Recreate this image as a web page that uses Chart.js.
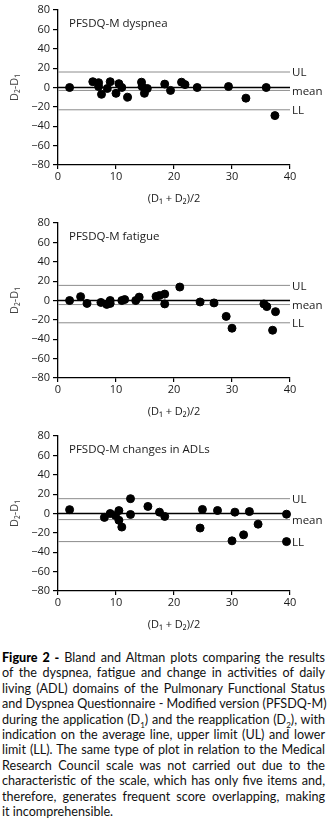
<!DOCTYPE html>
<html>
<head>
<meta charset="utf-8">
<script src="https://cdn.jsdelivr.net/npm/chart.js@4.4.1/dist/chart.umd.min.js"></script>
<style>
  html, body { margin: 0; padding: 0; background: #fff; }
  body { width: 327px; }
  .plot { position: relative; width: 327px; height: 213px; }
  .caption {
    margin: 11px 2px 0 2px;
    font-family: "Lato", sans-serif;
    font-size: 12.6px;
    line-height: 15.4px;
    color: #111;
  }
  .caption span { display: block; white-space: nowrap; text-align: justify; text-align-last: justify; }
  .caption span:last-child { text-align-last: left; }
  .caption b { font-weight: 900; color: #000; }
  .caption sub { font-size: 8px; line-height: 0; }
</style>
</head>
<body>
<div class="plot"><canvas id="c_dyspnea"></canvas></div>
<div class="plot"><canvas id="c_fatigue"></canvas></div>
<div class="plot"><canvas id="c_adl"></canvas></div>
<div class="caption">
<span><b>Figure 2 -</b> Bland and Altman plots comparing the results</span>
<span>of the dyspnea, fatigue and change in activities of daily</span>
<span>living (ADL) domains of the Pulmonary Functional Status</span>
<span>and Dyspnea Questionnaire - Modified version (PFSDQ-M)</span>
<span>during the application (D<sub>1</sub>) and the reapplication (D<sub>2</sub>), with</span>
<span>indication on the average line, upper limit (UL) and lower</span>
<span>limit (LL). The same type of plot in relation to the Medical</span>
<span>Research Council scale was not carried out due to the</span>
<span>characteristic of the scale, which has only five items and,</span>
<span>therefore, generates frequent score overlapping, making</span>
<span>it incomprehensible.</span>
</div>

<script>
// mean of both applications (x) and their difference D2-D1 (y)
const dyspnea_avg  = [2, 6, 7, 7, 7.5, 8.5, 9, 10, 10.5, 11, 12, 14.4, 14.5, 14.9, 15.4, 18.4, 19.4, 21.3, 21.9, 24, 29.4, 32.4, 35.9, 37.4];
const dyspnea_diff = [0, 6, 5, 1, -7, -1, 6, -6, 4, 0, -10, 5.5, 1, -6, -1, 3.5, -3, 5.5, 3, 0, 1, -11, 0, -29];
const dyspnea_lim  = [16, -3, -23];

const fatigue_avg  = [2, 3.9, 5, 7.4, 8.4, 9, 9, 11, 11.5, 13.4, 14, 16.9, 17.5, 18.4, 18.4, 21, 24.5, 26.9, 29, 30, 35.5, 36, 37, 37.5];
const fatigue_diff = [0, 4, -3, -2, -4, 0, -3, 0, 1, 0, 3.5, 4.2, 5.2, 6.6, -3.5, 13.9, -1.5, -2.5, -16.4, -28.6, -3.5, -6.3, -30.7, -11.5];
const fatigue_lim  = [15.6, -4.2, -23];

const adl_avg  = [2, 8, 9, 9.9, 10.5, 10.5, 11, 12.5, 12.5, 15.5, 17.5, 18.4, 24.5, 24.9, 27.5, 30, 30.5, 32, 33, 34.5, 39.4, 39.4];
const adl_diff = [4, -4, 0, -2, 3, -7, -14, 15.3, -1, 7.3, 1.4, -3, -15, 4.2, 3.1, -28.2, 1.4, -22, 2, -11, -0.7, -29];
const adl_lim  = [15.3, -6.3, -29];

const lim_labels = ['UL', 'mean', 'LL'];
const x_ticks = [0, 10, 20, 30, 40];
const y_ticks = [-80, -60, -40, -20, 0, 20, 40, 60, 80];

const FONT = '"Open Sans", sans-serif';

// panel name in the upper left, limit names after the line ends
const annotate = {
    id: 'annotate',
    afterDraw(chart) {
        let ctx = chart.ctx;
        let area = chart.chartArea;
        let ys = chart.scales.y;
        let opts = chart.options.plugins.annotate;
        ctx.save();
        ctx.fillStyle = '#1a1a1a';
        ctx.font = '11.5px ' + FONT;
        ctx.textBaseline = 'middle';
        ctx.textAlign = 'left';
        ctx.fillText(opts.name, area.left + 11, area.top + 14);
        for (let i = 0; i < opts.limits.length; i++) {
            ctx.fillText(lim_labels[i], area.right + 2, ys.getPixelForValue(opts.limits[i]) + 1);
        }
        ctx.restore();
    }
};

function hline(v, color, width) {
    return {
        type: 'line',
        data: [{x: x_ticks[0], y: v}, {x: x_ticks[x_ticks.length - 1], y: v}],
        borderColor: color,
        borderWidth: width,
        pointRadius: 0,
        fill: false
    };
}

function make_plot(id, name, avg, diff, lim) {
    let pts = avg.map((x, i) => ({x: x, y: diff[i]}));
    let datasets = [{
        type: 'scatter',
        data: pts,
        backgroundColor: '#000',
        borderColor: '#000',
        pointRadius: 4,
        pointHoverRadius: 4,
        clip: false
    }];
    datasets.push(hline(0, '#000', 1.4));
    for (let v of lim)
        datasets.push(hline(v, '#8c8c8c', 1));

    return new Chart(document.getElementById(id), {
        type: 'scatter',
        data: {datasets: datasets},
        options: {
            responsive: true,
            maintainAspectRatio: false,
            animation: false,
            events: [],
            layout: {padding: {top: 10, right: 37, left: 0, bottom: 0}},
            plugins: {
                legend: {display: false},
                tooltip: {enabled: false},
                annotate: {name: name, limits: lim}
            },
            scales: {
                x: {
                    type: 'linear',
                    min: x_ticks[0],
                    max: x_ticks[x_ticks.length - 1],
                    afterBuildTicks: s => { s.ticks = x_ticks.map(v => ({value: v})); },
                    grid: {drawOnChartArea: false, drawTicks: true, tickLength: 4, color: '#000', lineWidth: 1.2},
                    border: {color: '#000', width: 1.3},
                    ticks: {color: '#1a1a1a', font: {family: FONT, size: 11}, padding: 1, maxRotation: 0},
                    title: {display: true, text: '(D\u2081 + D\u2082)/2', color: '#1a1a1a',
                            font: {family: FONT, size: 11}, padding: {top: 0, bottom: 8}},
                    afterFit: s => { s.height = 48; }
                },
                y: {
                    type: 'linear',
                    min: y_ticks[0],
                    max: y_ticks[y_ticks.length - 1],
                    afterBuildTicks: s => { s.ticks = y_ticks.map(v => ({value: v})); },
                    grid: {drawOnChartArea: false, drawTicks: true, tickLength: 5, color: '#000', lineWidth: 1.2},
                    border: {color: '#000', width: 1.3},
                    ticks: {color: '#1a1a1a', font: {family: FONT, size: 11}, padding: 3,
                            callback: v => String(v).replace('-', '\u2212')},
                    title: {display: true, text: 'D\u2082-D\u2081', color: '#444',
                            font: {family: FONT, size: 11}, padding: {top: 8, bottom: 0}},
                    afterFit: s => { s.width = 58; }
                }
            }
        },
        plugins: [annotate]
    });
}

make_plot('c_dyspnea', 'PFSDQ-M dyspnea', dyspnea_avg, dyspnea_diff, dyspnea_lim);
make_plot('c_fatigue', 'PFSDQ-M fatigue', fatigue_avg, fatigue_diff, fatigue_lim);
make_plot('c_adl', 'PFSDQ-M changes in ADLs', adl_avg, adl_diff, adl_lim);
</script>
</body>
</html>
